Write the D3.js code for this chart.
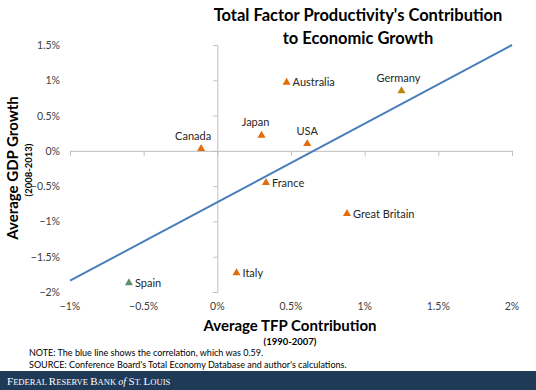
<!DOCTYPE html>
<html><head><meta charset="utf-8">
<script src="https://cdn.jsdelivr.net/npm/d3@7"></script>
<style>
html,body{margin:0;padding:0;background:#fff;}
svg{display:block;font-family:Lato,"Open Sans",sans-serif;}
</style></head>
<body>
<svg id="chart" width="536" height="390"></svg>
<script>
const countries = ["Australia","Germany","Japan","USA","Canada","France","Great Britain","Italy","Spain"];
const tfp = [0.47, 1.25, 0.30, 0.61, -0.11, 0.33, 0.88, 0.13, -0.60];
const gdp = [0.97, 0.85, 0.22, 0.10, 0.03, -0.45, -0.89, -1.73, -1.87];
const markerColors = ["#e36c0a","#b8860b","#e36c0a","#e36c0a","#e36c0a","#e36c0a","#e36c0a","#e36c0a","#5f8f6f"];
const labelPos = ["right","above","above","above","above","right","right","right","right"];
const labelShift = [0, -3, -6, 0, -8, 0, 0, 0, 0];
const fitX = [-1, 2];
const fitY = [-1.84, 1.50];
const xTicks = [-1, -0.5, 0, 0.5, 1, 1.5, 2];
const yTicks = [1.5, 1, 0.5, 0, -0.5, -1, -1.5, -2];

const svg = d3.select("#chart");
const x = d3.scaleLinear().domain([-1, 2]).range([70, 512]);
const y = d3.scaleLinear().domain([-2, 1.5]).range([292, 45]);
const fmt = d => (d3.format("~g")(d)) + "%";

// axes
const xAxis = svg.append("g").attr("transform", `translate(0,${y(0)})`)
  .call(d3.axisBottom(x).tickValues(xTicks).tickSize(5).tickFormat(""));
xAxis.select(".domain").attr("stroke", "#bfbfbf");
xAxis.selectAll(".tick line").attr("stroke", "#bfbfbf");

const yAxis = svg.append("g").attr("transform", `translate(${x(0)},0)`)
  .call(d3.axisLeft(y).tickValues(yTicks).tickSize(4).tickFormat(""));
yAxis.select(".domain").attr("stroke", "#bfbfbf");
yAxis.selectAll(".tick line").attr("stroke", "#bfbfbf");

// tick labels
svg.append("g").selectAll("text").data(xTicks).join("text")
  .attr("x", d => x(d)).attr("y", 310).attr("text-anchor", "middle")
  .attr("font-size", 10.5).attr("fill", "#404040").text(fmt);
svg.append("g").selectAll("text").data(yTicks).join("text")
  .attr("x", 60).attr("y", d => y(d) + 4).attr("text-anchor", "end")
  .attr("font-size", 10.5).attr("fill", "#404040").text(fmt);

// fit line
svg.append("path")
  .datum(fitX.map((d, i) => [d, fitY[i]]))
  .attr("d", d3.line().x(d => x(d[0])).y(d => y(d[1])))
  .attr("fill", "none").attr("stroke", "#4a7ebb").attr("stroke-width", 2);

// markers
const tri = d3.symbol().type(d3.symbolTriangle).size(28);
const pts = svg.append("g").selectAll("g").data(countries).join("g")
  .attr("transform", (d, i) => `translate(${x(tfp[i])},${y(gdp[i])})`);
pts.append("path").attr("d", tri).attr("fill", (d, i) => markerColors[i]);
pts.append("text")
  .attr("x", (d, i) => labelPos[i] === "right" ? 6 : labelShift[i])
  .attr("y", (d, i) => labelPos[i] === "right" ? 4 : -9)
  .attr("text-anchor", (d, i) => labelPos[i] === "right" ? "start" : "middle")
  .attr("font-size", 11).attr("fill", "#262626").text(d => d);

// title
svg.append("text").attr("x", 358).attr("y", 21).attr("text-anchor", "middle")
  .attr("font-size", 16.5).attr("font-weight", "bold").attr("fill", "#000")
  .text("Total Factor Productivity's Contribution");
svg.append("text").attr("x", 358).attr("y", 44).attr("text-anchor", "middle")
  .attr("font-size", 16.5).attr("font-weight", "bold").attr("fill", "#000")
  .text("to Economic Growth");

// y title
svg.append("text").attr("transform", "translate(18,168) rotate(-90)")
  .attr("text-anchor", "middle").attr("font-size", 15).attr("font-weight", "bold")
  .attr("fill", "#000").text("Average GDP Growth");
svg.append("text").attr("transform", "translate(32,170) rotate(-90)")
  .attr("text-anchor", "middle").attr("font-size", 9.5).attr("font-weight", "bold")
  .attr("fill", "#000").text("(2008-2013)");

// x title
svg.append("text").attr("x", 290).attr("y", 331).attr("text-anchor", "middle")
  .attr("font-size", 15).attr("font-weight", "bold").attr("fill", "#000")
  .text("Average TFP Contribution");
svg.append("text").attr("x", 290).attr("y", 345).attr("text-anchor", "middle")
  .attr("font-size", 9.5).attr("font-weight", "bold").attr("fill", "#000")
  .text("(1990-2007)");

// notes
svg.append("text").attr("x", 29).attr("y", 356).attr("font-size", 9).attr("fill", "#000")
  .text("NOTE: The blue line shows the correlation,  which was 0.59.");
svg.append("text").attr("x", 29).attr("y", 368).attr("font-size", 9).attr("fill", "#000")
  .text("SOURCE: Conference Board's Total Economy Database and author's calculations.");

// footer band
svg.append("rect").attr("x", 0).attr("y", 371).attr("width", 536).attr("height", 19).attr("fill", "#1f3a57");
const ft = svg.append("text").attr("x", 7).attr("y", 385).attr("fill", "#fff")
  .attr("font-family", "'Liberation Serif','DejaVu Serif',serif").attr("font-size", 11);
const big = 11, small = 8.6;
ft.append("tspan").text("F").attr("font-size", big);
ft.append("tspan").text("EDERAL ").attr("font-size", small);
ft.append("tspan").text("R").attr("font-size", big);
ft.append("tspan").text("ESERVE ").attr("font-size", small);
ft.append("tspan").text("B").attr("font-size", big);
ft.append("tspan").text("ANK ").attr("font-size", small);
ft.append("tspan").text("of ").attr("font-size", 10).attr("font-style", "italic");
ft.append("tspan").text("S").attr("font-size", big);
ft.append("tspan").text("T. ").attr("font-size", small);
ft.append("tspan").text("L").attr("font-size", big);
ft.append("tspan").text("OUIS").attr("font-size", small);
</script>
</body></html>
